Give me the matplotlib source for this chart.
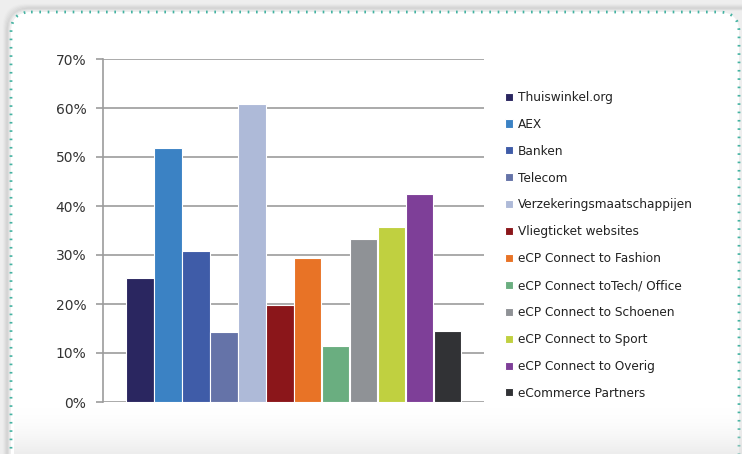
import matplotlib
matplotlib.use("Agg")
import matplotlib.pyplot as plt
import numpy as np
from matplotlib.patches import FancyBboxPatch
from matplotlib.ticker import FuncFormatter

categories = [
    "Thuiswinkel.org",
    "AEX",
    "Banken",
    "Telecom",
    "Verzekeringsmaatschappijen",
    "Vliegticket websites",
    "eCP Connect to Fashion",
    "eCP Connect toTech/ Office",
    "eCP Connect to Schoenen",
    "eCP Connect to Sport",
    "eCP Connect to Overig",
    "eCommerce Partners",
]
values = [25.4, 51.9, 30.9, 14.2, 60.8, 19.8, 29.4, 11.4, 33.3, 35.7, 42.4, 14.4]
colors = [
    "#2a2660", "#3b82c4", "#3f5ca8", "#6573a8", "#aebad8", "#8b161a",
    "#e87326", "#6aae80", "#8f9296", "#c0d040", "#7e3f98", "#313235",
]
y_ticks = [0, 10, 20, 30, 40, 50, 60, 70]

W, H = 742, 454
fig = plt.figure(figsize=(W / 100, H / 100), dpi=100)
fig.patch.set_facecolor("#eeeeee")

# soft shadow and white rounded panel with dotted teal border
bg = fig.add_axes([0, 0, 1, 1], zorder=-10)
bg.set_xlim(0, W)
bg.set_ylim(H, 0)
bg.axis("off")
for k, a in enumerate(np.linspace(0.05, 0.0, 6)):
    bg.add_patch(FancyBboxPatch((8 - k, 9 - k), 760 + 2 * k, 470 + 2 * k,
                                boxstyle="round,pad=0,rounding_size=22",
                                facecolor="none", edgecolor="black",
                                alpha=a, linewidth=2))
bg.add_patch(FancyBboxPatch((11, 12), 728, 470,
                            boxstyle="round,pad=0,rounding_size=20",
                            facecolor="white", edgecolor="#45b3a2",
                            linewidth=2.0, linestyle=(0, (0.6, 2.4))))
# gray fade toward the bottom edge of the panel
grad = np.linspace(0, 1, 50)[:, None] ** 1.8
bg.imshow(np.dstack([np.full((50, 1), 0.86)] * 3 + [grad * 0.5]),
          extent=(14, 742, 454, 404), aspect="auto", zorder=5)

ax = fig.add_axes([103 / W, 1 - 402 / H, (484 - 103) / W, (402 - 59) / H])
ax.set_facecolor("none")
x = np.arange(len(values))
bars = ax.bar(x, values, width=0.97, color=colors, edgecolor="white",
              linewidth=0.8, zorder=3)

ax.set_xlim(-1.32, 12.29)
ax.set_ylim(0, 70)
ax.set_yticks(y_ticks)
ax.yaxis.set_major_formatter(FuncFormatter(lambda v, p: f"{v:.0f}%"))
ax.set_xticks([])
ax.grid(axis="y", color="#9c9c9c", linewidth=1.2, zorder=0)
for s in ["top", "right", "bottom"]:
    ax.spines[s].set_visible(False)
ax.spines["left"].set_color("#9c9c9c")
ax.spines["left"].set_linewidth(1.2)
ax.tick_params(axis="y", length=5, width=1.2, color="#9c9c9c",
               labelsize=10, labelcolor="#333333", pad=7)

leg = ax.legend(bars, categories, loc="upper left",
                bbox_to_anchor=(500 / W, 1 - 86 / H), bbox_transform=fig.transFigure,
                frameon=False, fontsize=8.7, handlelength=0.65, handleheight=0.65,
                handletextpad=0.45, labelspacing=1.15, borderaxespad=0)
for t in leg.get_texts():
    t.set_color("#222222")

fig.savefig("out.png", dpi=100, facecolor=fig.get_facecolor())
